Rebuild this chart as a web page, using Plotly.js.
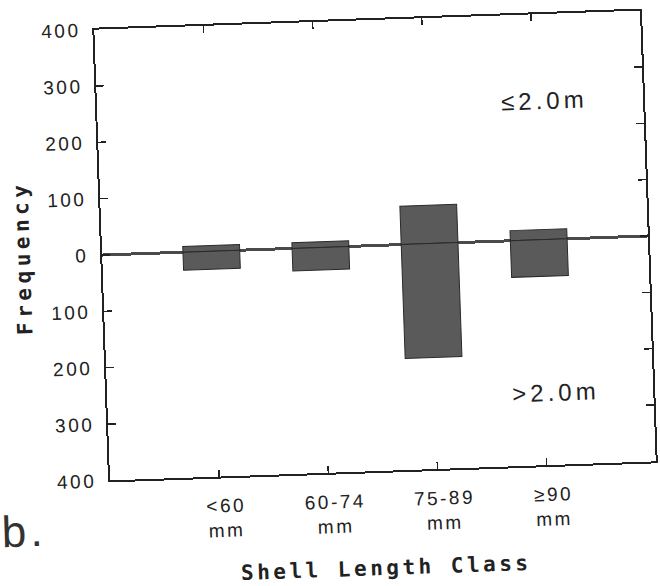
<!DOCTYPE html>
<html>
<head>
<meta charset="utf-8">
<script src="https://cdn.plot.ly/plotly-3.0.1.min.js"></script>
<style>
  html, body { margin: 0; padding: 0; background: #fff; overflow: hidden; width: 660px; height: 586px; }
  #wrap { position: absolute; left: -20px; top: -10px; width: 700px; height: 610px;
          transform: rotate(-2deg); transform-origin: 395px 255px; }
  #chart { width: 700px; height: 610px; }
  .ytick text, .xtick text { letter-spacing: 2.5px; }
  .xtitle { letter-spacing: 3.5px; }
  .ytitle { letter-spacing: 4.5px; }
  .annotation-text { letter-spacing: 4px; }
</style>
</head>
<body>
<div id="wrap"><div id="chart"></div></div>
<script>
// Shell length classes
const categories = ['<60', '60-74', '75-89', '≥90'];
const tickLabels = ['&lt;60<br>mm', '60-74<br>mm', '75-89<br>mm', '≥90<br>mm'];
// Frequency at depth <= 2.0 m (plotted upward)
const shallowFreq = [10, 10, 68, 18];
// Frequency at depth > 2.0 m (plotted downward)
const deepFreq = [32, 40, 202, 65];
// y axis ticks (absolute values shown both ways)
const yTickVals = [-400, -300, -200, -100, 0, 100, 200, 300, 400];
const yTickText = ['400', '300', '200', '100', '0', '100', '200', '300', '400'];

const barStyle = { color: '#5a5a5a', line: { color: '#2a2a2a', width: 1 } };

const traces = [
  { type: 'bar', x: categories, y: shallowFreq, width: 0.52, marker: barStyle,
    name: '≤2.0m', hoverinfo: 'x+y' },
  { type: 'bar', x: categories, y: deepFreq.map(v => -v), width: 0.52, marker: barStyle,
    name: '>2.0m', hoverinfo: 'x+y' }
];

const axisFont = { family: 'Liberation Sans, Arial, sans-serif', size: 19, color: '#222' };
const titleFont = { family: 'DejaVu Sans Mono, monospace', size: 21, color: '#222', weight: 'bold' };

const layout = {
  width: 700, height: 610,
  margin: { l: 122, r: 32, t: 30, b: 129 },
  paper_bgcolor: 'rgba(0,0,0,0)', plot_bgcolor: 'rgba(0,0,0,0)',
  barmode: 'relative',
  showlegend: false,
  xaxis: {
    type: 'category', range: [-1, 4],
    tickvals: categories, ticktext: tickLabels,
    ticks: 'inside', ticklen: 7, tickwidth: 1.5, tickcolor: '#222',
    showline: true, linecolor: '#222', linewidth: 2, mirror: 'ticks',
    showgrid: false, zeroline: false,
    tickfont: axisFont, ticklabelstandoff: 11, ticklabelshift: 6,
    title: { text: 'Shell Length Class', font: titleFont, standoff: 26 }
  },
  yaxis: {
    range: [-400, 400],
    tickvals: yTickVals, ticktext: yTickText,
    ticks: 'inside', ticklen: 8, tickwidth: 1.5, tickcolor: '#222',
    showline: true, linecolor: '#222', linewidth: 2, mirror: 'ticks',
    showgrid: false,
    zeroline: true, zerolinecolor: '#4a4a4a', zerolinewidth: 3,
    tickfont: axisFont, ticklabelstandoff: 8,
    title: { text: 'Frequency', font: Object.assign({}, titleFont, { size: 21 }), standoff: 13 }
  },
  annotations: [
    { xref: 'x', yref: 'y', x: 3.1, y: 246, text: '≤2.0m', showarrow: false,
      font: { family: 'Liberation Sans, Arial, sans-serif', size: 24, color: '#222' } },
    { xref: 'x', yref: 'y', x: 3.11, y: -272, text: '&gt;2.0m', showarrow: false,
      font: { family: 'Liberation Sans, Arial, sans-serif', size: 24, color: '#222' } },
    { xref: 'paper', yref: 'paper', x: -0.16, y: -0.105, xanchor: 'center', yanchor: 'middle',
      text: 'b.', showarrow: false,
      font: { family: 'Liberation Sans, Arial, sans-serif', size: 44, color: '#333' } }
  ]
};

Plotly.newPlot('chart', traces, layout, { staticPlot: true, displayModeBar: false });
</script>
</body>
</html>
